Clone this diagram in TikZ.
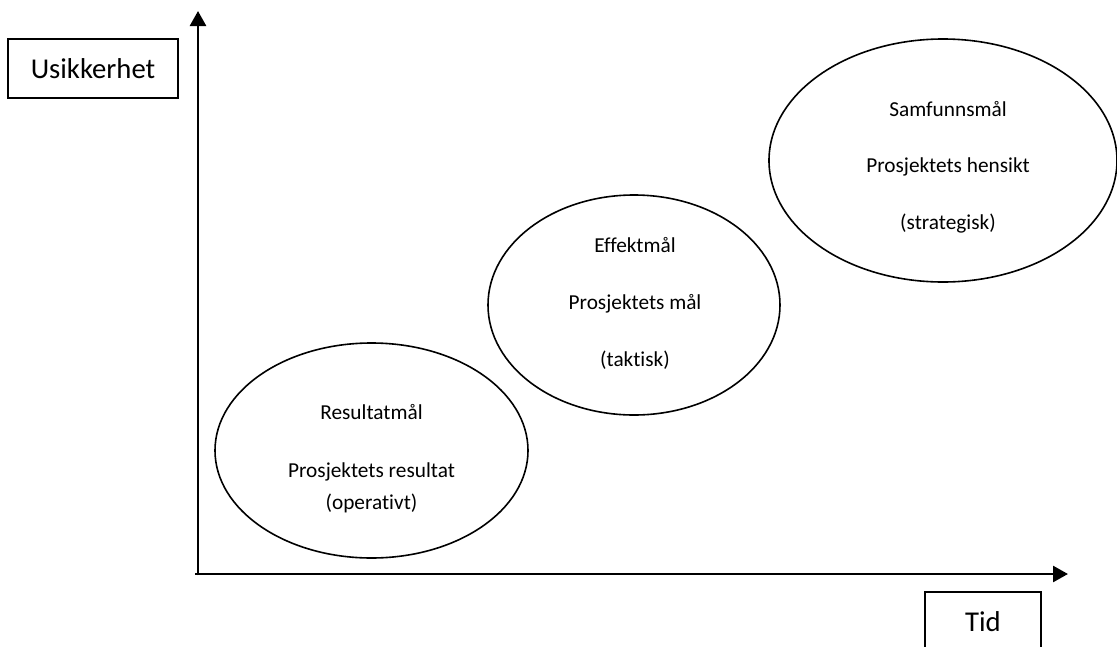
\documentclass[tikz,border=0pt]{standalone}
\usepackage{fontspec}
\setmainfont{Carlito}[Ligatures={NoCommon}]
\usetikzlibrary{arrows.meta, positioning, shapes.geometric}

\tikzset{
  axis/.style={line width=2.6pt, -{Triangle[length=15pt,width=16pt]}},
  goal/.style={draw, ellipse, line width=1.6pt, inner sep=0pt},
  goaltext/.style={align=center, font=\fontsize{21.3}{32}\selectfont},
  labelbox/.style={draw, rectangle, line width=1.6pt, minimum height=59pt,
    inner sep=0pt, font=\fontsize{28.7}{34}\selectfont}
}

\begin{document}
\begin{tikzpicture}[x=1pt, y=-1pt]
    \useasboundingbox (0,0) rectangle (1117,646);
    % axes
    \coordinate (origin) at (198,574);
    \coordinate (ytop) at (198,11);
    \coordinate (xend) at (1068,574);
    \draw[axis] ([yshift=-1.3pt]origin) -- (ytop);
    \draw[axis] ([xshift=-3pt]origin) -- (xend);

    % axis labels
    \node[labelbox, minimum width=170pt] (usikkerhet) at (93,68.5) {Usikkerhet};
    \node[labelbox, minimum width=116pt] (tid) at (983,621.5) {Tid};

    % goal levels
    \node[goal, minimum width=313pt, minimum height=215pt] (resultat) at (371.5,450.5) {};
    \node[goal, minimum width=292pt, minimum height=220pt] (effekt) at (634,305) {};
    \node[goal, minimum width=348pt, minimum height=243pt] (samfunn) at (943,160.5) {};

    \node[goaltext] (resultattxt) at ([yshift=-8.5pt]resultat.center)
        {Resultatmål\\[26pt]Prosjektets resultat\\(operativt)};
    \node[goaltext] (effekttxt) at ([xshift=1pt,yshift=1.5pt]effekt.center)
        {Effektmål\\[25pt]Prosjektets mål\\[25pt](taktisk)};
    \node[goaltext] (samfunntxt) at ([xshift=5pt,yshift=-6.5pt]samfunn.center)
        {Samfunnsmål\\[24pt]Prosjektets hensikt\\[25pt](strategisk)};
\end{tikzpicture}
\end{document}
